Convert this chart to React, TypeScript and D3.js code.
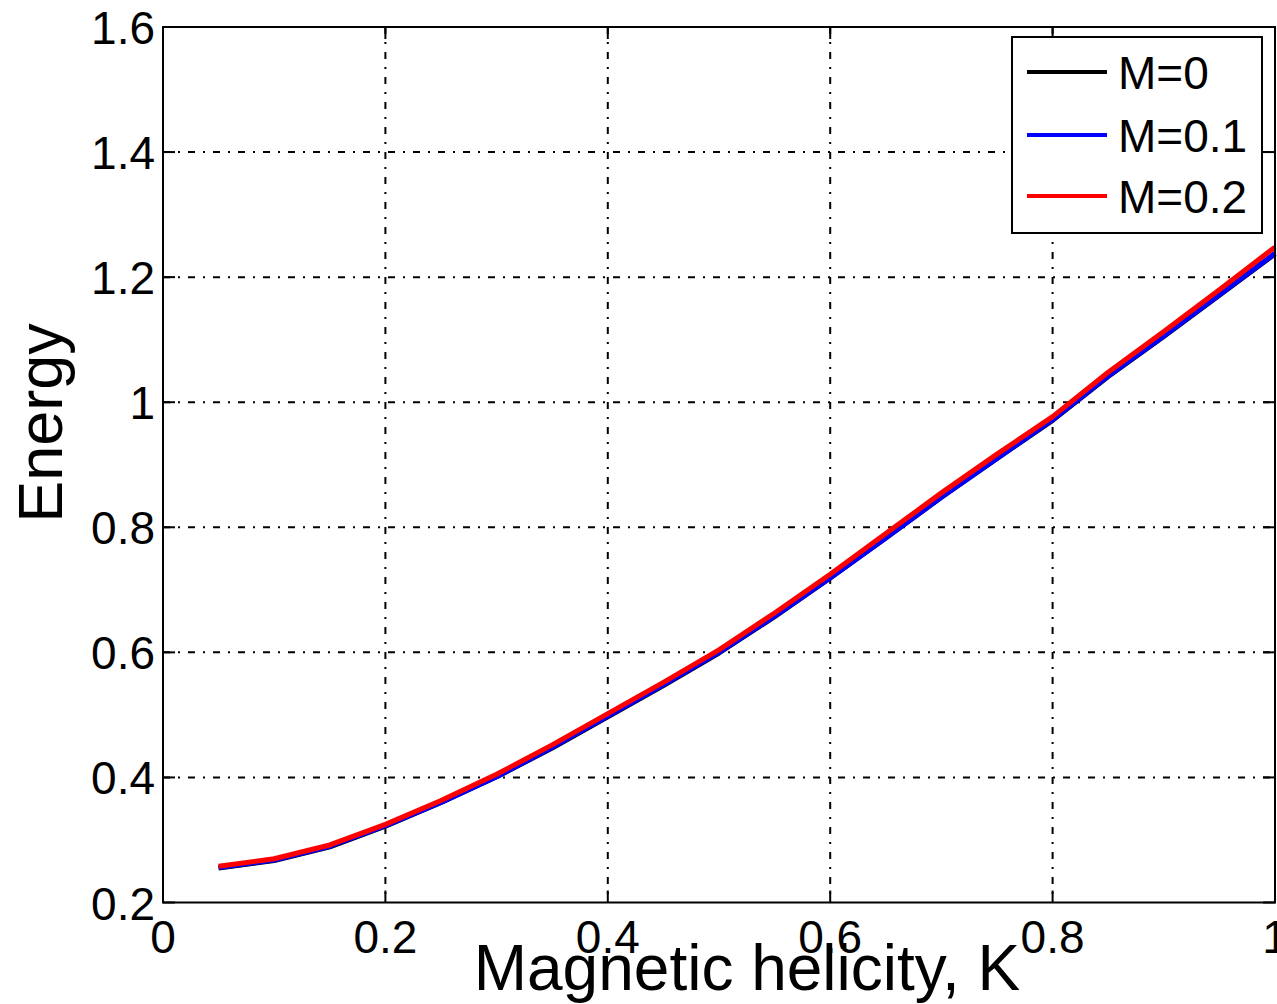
import * as d3 from 'd3';

const WIDTH = 1277;
const HEIGHT = 1004;
const PLOT = { left: 163, right: 1275, top: 27, bottom: 902.5 };
const FONT = '"Liberation Sans", Arial, Helvetica, sans-serif';
const GRID_DASH = '7,8,2,8';

// helicity K, sampled every 0.05
const helicity = [0.05, 0.1, 0.15, 0.2, 0.25, 0.3, 0.35, 0.4, 0.45, 0.5, 0.55, 0.6, 0.65, 0.7, 0.75, 0.8, 0.85, 0.9, 0.95, 1.0];

const energyM0 = [0.255, 0.267, 0.289, 0.322, 0.36, 0.401, 0.447, 0.497, 0.547, 0.599, 0.657, 0.719, 0.783, 0.848, 0.91, 0.971, 1.041, 1.105, 1.171, 1.237];
const energyM01 = [0.256, 0.268, 0.29, 0.323, 0.36, 0.401, 0.448, 0.498, 0.548, 0.6, 0.658, 0.719, 0.783, 0.848, 0.91, 0.972, 1.042, 1.106, 1.172, 1.238];
const energyM02 = [0.258, 0.27, 0.292, 0.325, 0.363, 0.405, 0.452, 0.502, 0.552, 0.604, 0.663, 0.725, 0.79, 0.855, 0.917, 0.977, 1.048, 1.113, 1.18, 1.248];

const seriesNames = ['M=0', 'M=0.1', 'M=0.2'];
const seriesColors = ['#000000', '#0000ff', '#ff0000'];
const seriesValues = [energyM0, energyM01, energyM02];

const xTicks = [0, 0.2, 0.4, 0.6, 0.8, 1];
const xTickLabels = ['0', '0.2', '0.4', '0.6', '0.8', '1'];
const yTicks = [0.2, 0.4, 0.6, 0.8, 1, 1.2, 1.4, 1.6];
const yTickLabels = ['0.2', '0.4', '0.6', '0.8', '1', '1.2', '1.4', '1.6'];

export default function App() {
  const x = d3.scaleLinear().domain([0, 1]).range([PLOT.left, PLOT.right]);
  const y = d3.scaleLinear().domain([0.2, 1.6]).range([PLOT.bottom, PLOT.top]);

  const line = d3
    .line<number>()
    .x((_, i) => x(helicity[i]))
    .y((d) => y(d));

  const tickLen = 12;
  const legend = { x: 1012, y: 37, w: 250, h: 196 };
  const legendRows = [72, 135, 196];

  return (
    <svg
      width={WIDTH}
      height={HEIGHT}
      viewBox={`0 0 ${WIDTH} ${HEIGHT}`}
      style={{ position: 'absolute', left: 0, top: 0, background: '#fff' }}
      fontFamily={FONT}
    >
      <rect x={0} y={0} width={WIDTH} height={HEIGHT} fill="#fff" />

      {/* grid */}
      {xTicks.slice(1, -1).map((t) => (
        <line key={`gx${t}`} x1={x(t)} x2={x(t)} y1={PLOT.top} y2={PLOT.bottom}
          stroke="#000" strokeWidth={2} strokeDasharray={GRID_DASH} />
      ))}
      {yTicks.slice(1, -1).map((t) => (
        <line key={`gy${t}`} x1={PLOT.left} x2={PLOT.right} y1={y(t)} y2={y(t)}
          stroke="#000" strokeWidth={2} strokeDasharray={GRID_DASH} />
      ))}

      {/* curves */}
      {seriesValues.map((vals, i) => (
        <path key={seriesNames[i]} d={line(vals) ?? ''} fill="none"
          stroke={seriesColors[i]} strokeWidth={5} strokeLinejoin="round" />
      ))}

      {/* ticks, inside on all four sides */}
      {xTicks.map((t) => (
        <g key={`tx${t}`} stroke="#000" strokeWidth={2}>
          <line x1={x(t)} x2={x(t)} y1={PLOT.bottom} y2={PLOT.bottom - tickLen} />
          <line x1={x(t)} x2={x(t)} y1={PLOT.top} y2={PLOT.top + tickLen} />
        </g>
      ))}
      {yTicks.map((t) => (
        <g key={`ty${t}`} stroke="#000" strokeWidth={2}>
          <line x1={PLOT.left} x2={PLOT.left + tickLen} y1={y(t)} y2={y(t)} />
          <line x1={PLOT.right} x2={PLOT.right - tickLen} y1={y(t)} y2={y(t)} />
        </g>
      ))}

      {/* frame */}
      <rect x={PLOT.left} y={PLOT.top} width={PLOT.right - PLOT.left} height={PLOT.bottom - PLOT.top}
        fill="none" stroke="#000" strokeWidth={2} />

      {/* tick labels */}
      {xTicks.map((t, i) => (
        <text key={`lx${t}`} x={x(t)} y={953} textAnchor="middle" fontSize={46} fill="#000">
          {xTickLabels[i]}
        </text>
      ))}
      {yTicks.map((t, i) => (
        <text key={`ly${t}`} x={155} y={y(t) + 17} textAnchor="end" fontSize={46} fill="#000">
          {yTickLabels[i]}
        </text>
      ))}

      {/* axis labels */}
      <text x={747} y={990} textAnchor="middle" fontSize={64} fill="#000">
        Magnetic helicity, K
      </text>
      <text transform="translate(62,423) rotate(-90)" textAnchor="middle" fontSize={63} fill="#000">
        Energy
      </text>

      {/* legend */}
      <rect x={legend.x} y={legend.y} width={legend.w} height={legend.h} fill="#fff" stroke="#000" strokeWidth={2} />
      {seriesNames.map((name, i) => (
        <g key={`leg${name}`}>
          <line x1={1027} x2={1107} y1={legendRows[i]} y2={legendRows[i]} stroke={seriesColors[i]} strokeWidth={4} />
          <text x={1118} y={legendRows[i] + 17} fontSize={46} fill="#000">
            {name}
          </text>
        </g>
      ))}
    </svg>
  );
}
